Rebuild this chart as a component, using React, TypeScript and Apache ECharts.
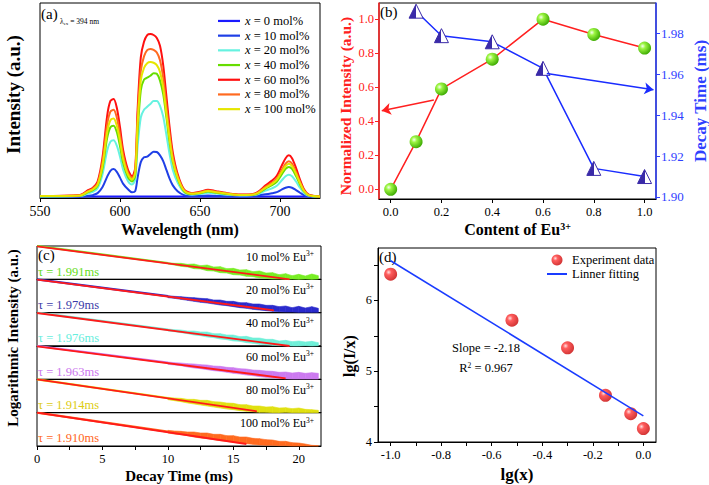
import React, { useEffect, useRef } from "react";
import * as echarts from "echarts";

const FONT = "'Liberation Serif', 'Times New Roman', Times, serif";

// ---------- (a) emission spectra ----------
const wavelength = [550, 575, 580, 583, 586, 589, 592, 594, 596, 598, 600, 602, 605, 607.5, 609.5, 611, 613, 615, 617, 619, 621, 623, 625, 627, 629, 631, 633, 636, 640, 645, 650, 655, 660, 667, 675, 682, 686, 691, 695, 698, 701, 703.5, 705.5, 707.5, 710, 712.5, 715, 718, 725];
const wavelength0 = [550, 725];
const em0 = [0.003, 0.003];
const em10 = [0.001, 0.002, 0.006, 0.01, 0.02, 0.05, 0.105, 0.135, 0.144, 0.13, 0.1, 0.068, 0.04, 0.024, 0.03, 0.1, 0.18, 0.205, 0.208, 0.222, 0.234, 0.232, 0.215, 0.185, 0.14, 0.095, 0.06, 0.03, 0.01, 0.005, 0.006, 0.008, 0.006, 0.004, 0.003, 0.004, 0.008, 0.014, 0.02, 0.025, 0.038, 0.048, 0.052, 0.048, 0.036, 0.022, 0.01, 0.003, 0.001];
const em20 = [0.003, 0.005, 0.018, 0.026, 0.045, 0.115, 0.24, 0.285, 0.292, 0.265, 0.208, 0.14, 0.082, 0.065, 0.09, 0.26, 0.41, 0.45, 0.465, 0.48, 0.495, 0.495, 0.47, 0.415, 0.32, 0.22, 0.14, 0.075, 0.025, 0.012, 0.016, 0.022, 0.018, 0.012, 0.008, 0.009, 0.014, 0.033, 0.045, 0.058, 0.085, 0.107, 0.115, 0.107, 0.08, 0.048, 0.021, 0.007, 0.002];
const em40 = [0.004, 0.007, 0.025, 0.035, 0.058, 0.145, 0.305, 0.36, 0.368, 0.335, 0.262, 0.175, 0.102, 0.08, 0.11, 0.33, 0.55, 0.605, 0.615, 0.625, 0.638, 0.635, 0.6, 0.53, 0.41, 0.28, 0.18, 0.095, 0.03, 0.015, 0.02, 0.028, 0.022, 0.015, 0.01, 0.011, 0.018, 0.043, 0.061, 0.079, 0.115, 0.145, 0.155, 0.145, 0.108, 0.065, 0.029, 0.009, 0.002];
const em60 = [0.005, 0.01, 0.035, 0.048, 0.08, 0.2, 0.42, 0.495, 0.505, 0.46, 0.36, 0.24, 0.14, 0.107, 0.15, 0.45, 0.72, 0.8, 0.835, 0.84, 0.835, 0.82, 0.78, 0.68, 0.52, 0.36, 0.23, 0.12, 0.04, 0.02, 0.027, 0.038, 0.03, 0.02, 0.013, 0.015, 0.025, 0.06, 0.085, 0.11, 0.16, 0.2, 0.215, 0.2, 0.15, 0.09, 0.04, 0.012, 0.003];
const em80 = [0.005, 0.009, 0.03, 0.043, 0.07, 0.18, 0.375, 0.44, 0.45, 0.41, 0.32, 0.215, 0.125, 0.097, 0.135, 0.41, 0.65, 0.725, 0.757, 0.763, 0.758, 0.745, 0.705, 0.615, 0.47, 0.325, 0.208, 0.108, 0.036, 0.018, 0.024, 0.034, 0.027, 0.018, 0.012, 0.013, 0.022, 0.052, 0.074, 0.095, 0.138, 0.172, 0.184, 0.172, 0.129, 0.078, 0.034, 0.01, 0.003];
const em100 = [0.005, 0.008, 0.028, 0.039, 0.064, 0.16, 0.336, 0.396, 0.405, 0.368, 0.29, 0.195, 0.115, 0.09, 0.125, 0.375, 0.6, 0.665, 0.69, 0.696, 0.692, 0.68, 0.645, 0.565, 0.43, 0.3, 0.19, 0.1, 0.033, 0.017, 0.022, 0.031, 0.025, 0.017, 0.011, 0.012, 0.02, 0.048, 0.068, 0.088, 0.128, 0.16, 0.172, 0.16, 0.12, 0.072, 0.032, 0.01, 0.003];
const emNames = ["x = 0 mol%", "x = 10 mol%", "x = 20 mol%", "x = 40 mol%", "x = 60 mol%", "x = 80 mol%", "x = 100 mol%"];
const emColors = ["#1a1aff", "#1f3fe6", "#66f2e0", "#66dd00", "#ff1010", "#ff6a20", "#e6e600"];
const aXTicks = [550, 600, 650, 700];

// ---------- (b) normalized intensity & decay time ----------
const euContent = [0, 0.1, 0.2, 0.4, 0.6, 0.8, 1.0];
const normIntensity = [0.0, 0.28, 0.59, 0.765, 1.0, 0.91, 0.83];
const decayContent = [0.1, 0.2, 0.4, 0.6, 0.8, 1.0];
const decayTime = [1.991, 1.979, 1.976, 1.963, 1.914, 1.91];
const bXTicks = [0, 0.2, 0.4, 0.6, 0.8, 1.0];
const bLeftTicks = [0, 0.2, 0.4, 0.6, 0.8, 1.0];
const bRightTicks = [1.9, 1.92, 1.94, 1.96, 1.98];
const arrowNorm = [[0.17, 0.525], [-0.035, 0.462]];
const arrowDecay = [[0.615, 1.9605], [1.035, 1.9525]];

// ---------- (c) decay curves ----------
const cConc = ["10", "20", "40", "60", "80", "100"];
const cTau = ["1.991", "1.979", "1.976", "1.963", "1.914", "1.910"];
const cColors = ["#77ee22", "#2a2acc", "#6ff0d8", "#cc7af0", "#e0e010", "#ff6a1e"];
const cTauColors = ["#66dd22", "#3a3aa8", "#66eedd", "#cc77ee", "#ddcc11", "#ff6622"];
const cFitStart = [99, 99, 99, 99, 100, 100];
const cFitEndT = [19.3, 18.1, 19.3, 19.0, 16.8, 16.0];
const cFitEndY = [0, 7, 0, 3, 4, 6];
const cHeadEnd = [49, 49.5, 49, 50, 44, 43];
const cT = [10, 10.5, 11, 11.5, 12, 12.5, 13, 13.5, 14, 14.5, 15, 15.5, 16, 16.5, 17, 17.5, 18, 18.5, 19, 19.5, 20, 20.5, 21, 21.5];
const cLo = [
  [46, 43, 39, 37, 32, 31, 26, 25, 20, 19, 14, 13, 9, 8, 4, 3, 1, 1, 0, 1, 0, 1, 0, 1],
  [45, 43, 40, 37, 34, 31, 29, 26, 23, 21, 18, 15, 13, 10, 8, 6, 4, 3, 2, 2, 1, 1, 1, 1],
  [45, 43, 40, 37, 33, 31, 27, 25, 21, 19, 15, 14, 10, 8, 5, 4, 2, 1, 1, 0, 0, 1, 0, 1],
  [45, 43, 41, 37, 34, 32, 29, 26, 24, 21, 18, 16, 13, 11, 8, 6, 4, 3, 2, 1, 1, 1, 1, 1],
  [39, 36, 33, 29, 26, 23, 20, 17, 14, 11, 9, 6, 4, 3, 1, 1, 0, 0, 1, 0, 0, 0, 0, 0],
  [39, 36, 34, 31, 27, 24, 22, 19, 16, 14, 11, 9, 7, 5, 3, 2, 2, 1, 1, 0, 0, 0, 0, 0],
];
const cHi = [
  [50, 48, 48, 45, 46, 41, 43, 37, 38, 32, 33, 28, 29, 23, 25, 19, 20, 14, 17, 11, 15, 10, 16, 11],
  [51, 49, 48, 46, 45, 43, 42, 38, 38, 34, 34, 30, 30, 26, 26, 22, 22, 18, 20, 15, 19, 14, 18, 13],
  [51, 49, 48, 45, 45, 42, 42, 37, 37, 33, 33, 28, 29, 24, 24, 20, 20, 15, 17, 13, 15, 12, 14, 10],
  [52, 50, 49, 47, 46, 44, 43, 40, 39, 36, 35, 32, 31, 28, 27, 25, 24, 21, 22, 19, 21, 18, 20, 18],
  [46, 44, 43, 40, 40, 37, 37, 33, 32, 29, 28, 24, 24, 20, 20, 17, 18, 14, 15, 12, 14, 10, 9, 7],
  [47, 45, 44, 42, 42, 39, 39, 35, 35, 31, 31, 27, 27, 23, 22, 19, 18, 14, 14, 10, 9, 6, 2, 1],
];
const cXTicks = [0, 5, 10, 15, 20];
const cXMinorTicks = [0, 2.5, 5, 7.5, 10, 12.5, 15, 17.5, 20];

// ---------- (d) lg(I/x) vs lg(x) ----------
const dX = [-1.0, -0.52, -0.3, -0.15, -0.05, 0.0];
const dY = [6.37, 5.72, 5.33, 4.66, 4.4, 4.19];
const dFitX = [-1.0, 0.0];
const dFitY = [6.56, 4.37];
const dXTicks = [-1.0, -0.8, -0.6, -0.4, -0.2, 0.0];
const dXMinorTicks = [-1.0, -0.9, -0.8, -0.7, -0.6, -0.5, -0.4, -0.3, -0.2, -0.1, 0.0];
const dYTicks = [4, 5, 6];
const dYMinorTicks = [4, 4.5, 5, 5.5, 6, 6.5];

const pairs = (xs: number[], ys: number[]) => xs.map((x, i) => [x, ys[i]]);
const LINE_ICON = "path://M0,0 L20,0 L20,2 L0,2 Z";

function valueAxis(o: any) {
  const color = o.color || "#000";
  return {
    type: "value",
    gridIndex: o.grid,
    position: o.position,
    min: o.min,
    max: o.max,
    splitLine: { show: false },
    axisLine: { show: o.line !== false, onZero: false, lineStyle: { color, width: o.lineWidth || 1 } },
    axisTick: o.ticks
      ? { show: true, inside: false, length: 4, customValues: o.ticks, lineStyle: { color, width: 1 } }
      : { show: false },
    axisLabel: o.labels
      ? {
          show: true,
          customValues: o.labels,
          formatter: o.fmt,
          color,
          fontSize: o.fontSize || 12.5,
          fontFamily: FONT,
          margin: o.margin || 6,
        }
      : { show: false },
    name: o.name,
    nameLocation: "middle",
    nameGap: o.nameGap,
    nameRotate: o.nameRotate,
    nameTextStyle: o.name
      ? {
          fontSize: o.nameSize,
          fontWeight: "bold",
          color,
          fontFamily: FONT,
          padding: o.namePad,
          rich: o.nameRich,
        }
      : undefined,
  };
}

function buildOption() {
  const stripTop = 246;
  const stripH = 200 / 6;

  const grids: any[] = [
    { left: 40, top: 3, width: 280, height: 195 },
    { left: 379, top: 3, width: 277, height: 196 },
  ];
  for (let i = 0; i < 6; i++) grids.push({ left: 37, top: stripTop + i * stripH, width: 284, height: stripH });
  grids.push({ left: 378, top: 248, width: 278, height: 194 });
  grids.forEach((g) => {
    g.show = true;
    g.borderColor = "#000";
    g.borderWidth = 1;
    g.backgroundColor = "transparent";
    g.containLabel = false;
    g.outerBoundsMode = "none";
  });

  const supRich = {
    s: { fontSize: 10, fontWeight: "bold", verticalAlign: "top", fontFamily: FONT, color: "#000", lineHeight: 10 },
  };

  const xAxes: any[] = [
    valueAxis({ grid: 0, min: 550, max: 725, ticks: aXTicks, labels: aXTicks, fontSize: 14, name: "Wavelength (nm)", nameGap: 23, nameSize: 16 }),
    valueAxis({ grid: 1, min: -0.046, max: 1.045, ticks: bXTicks, labels: bXTicks, fmt: (v: number) => v.toFixed(1), name: "Content of Eu{s|3+}", nameGap: 22, nameSize: 16, nameRich: supRich }),
  ];
  for (let i = 0; i < 6; i++) {
    const last = i === 5;
    xAxes.push(
      valueAxis({
        grid: 2 + i,
        min: 0,
        max: 21.7,
        ticks: last ? cXMinorTicks : undefined,
        labels: last ? cXTicks : undefined,
        name: last ? "Decay Time (ms)" : undefined,
        nameGap: 22,
        nameSize: 15,
      })
    );
  }
  xAxes.push(
    valueAxis({ grid: 8, min: -1.05, max: 0.05, ticks: dXMinorTicks, labels: dXTicks, fmt: (v: number) => v.toFixed(1), name: "lg(x)", nameGap: 24, nameSize: 17 })
  );

  const yAxes: any[] = [
    valueAxis({ grid: 0, min: -0.005, max: 1.0, line: false, name: "Intensity (a.u.)", nameGap: 17, nameSize: 19, nameRotate: 90, namePad: [0, 0, 0, 12] }),
    valueAxis({ grid: 1, min: -0.057, max: 1.095, color: "#ff2020", lineWidth: 1.5, ticks: bLeftTicks, labels: bLeftTicks, fmt: (v: number) => v.toFixed(1), margin: 5, name: "Normalized Intensity (a.u.)", nameGap: 26, nameSize: 15.5, nameRotate: 90, namePad: [0, 10, 0, 0] }),
    valueAxis({ grid: 1, position: "right", min: 1.899, max: 1.995, color: "#2f3fff", lineWidth: 1.5, ticks: bRightTicks, labels: bRightTicks, fmt: (v: number) => v.toFixed(2), fontSize: 13, margin: 5, name: "Decay Time (ms)", nameGap: 36, nameSize: 17, nameRotate: 90 }),
  ];
  for (let i = 0; i < 6; i++) yAxes.push(valueAxis({ grid: 2 + i, min: 0, max: 100, line: false }));
  yAxes.push(
    valueAxis({ grid: 8, min: 4, max: 6.74, ticks: dYMinorTicks, labels: dYTicks, margin: 6, name: "lg(I/x)", nameGap: 21, nameSize: 16, nameRotate: 90, namePad: [0, 22, 0, 0] })
  );

  const series: any[] = [];
  const emData = [em0, em10, em20, em40, em60, em80, em100];
  emData.forEach((ys, k) => {
    series.push({
      name: emNames[k],
      type: "line",
      xAxisIndex: 0,
      yAxisIndex: 0,
      data: pairs(k === 0 ? wavelength0 : wavelength, ys),
      symbol: "none",
      showSymbol: false,
      smooth: 0.3,
      lineStyle: { color: emColors[k], width: 2 },
      itemStyle: { color: emColors[k] },
    });
  });

  const greenBall = new echarts.graphic.RadialGradient(0.35, 0.35, 0.7, [
    { offset: 0, color: "#f4fff0" },
    { offset: 0.3, color: "#9cf542" },
    { offset: 1, color: "#3aa800" },
  ]);
  const redBall = new echarts.graphic.RadialGradient(0.35, 0.35, 0.7, [
    { offset: 0, color: "#ffd8d8" },
    { offset: 0.3, color: "#ff3434" },
    { offset: 1, color: "#c40000" },
  ]);
  const halfTri = new echarts.graphic.LinearGradient(0, 0, 1, 0, [
    { offset: 0, color: "#3a2aa8" },
    { offset: 0.5, color: "#3a2aa8" },
    { offset: 0.5, color: "#ffffff" },
    { offset: 1, color: "#ffffff" },
  ]);

  series.push({
    name: "Normalized intensity",
    type: "line",
    xAxisIndex: 1,
    yAxisIndex: 1,
    data: pairs(euContent, normIntensity),
    symbol: "circle",
    symbolSize: 13,
    itemStyle: { color: greenBall },
    lineStyle: { color: "#ff2020", width: 1.5 },
    z: 3,
    markLine: {
      silent: true,
      symbol: ["none", "arrow"],
      symbolSize: 9,
      label: { show: false },
      lineStyle: { color: "#ff2020", width: 1.5, type: "solid" },
      data: [[{ coord: arrowNorm[0] }, { coord: arrowNorm[1] }]],
    },
  });
  series.push({
    name: "Decay time",
    type: "line",
    xAxisIndex: 1,
    yAxisIndex: 2,
    data: pairs(decayContent, decayTime),
    symbol: "triangle",
    symbolSize: 14,
    itemStyle: { color: halfTri, borderColor: "#3a2aa8", borderWidth: 1 },
    lineStyle: { color: "#1a2cff", width: 1.5 },
    markLine: {
      silent: true,
      symbol: ["none", "arrow"],
      symbolSize: 9,
      label: { show: false },
      lineStyle: { color: "#1a2cff", width: 1.5, type: "solid" },
      data: [[{ coord: arrowDecay[0] }, { coord: arrowDecay[1] }]],
    },
  });

  for (let i = 0; i < 6; i++) {
    const xi = 2 + i;
    const yi = 3 + i;
    const lo = cLo[i];
    const hi = cHi[i];
    const color = cColors[i];
    // noisy tail of the measured decay: band between lower and upper envelopes
    series.push({
      name: "noise" + i,
      type: "custom",
      xAxisIndex: xi,
      yAxisIndex: yi,
      silent: true,
      encode: { x: 0, y: [1, 2] },
      data: cT.map((t, k) => [t, lo[k], hi[k]]),
      renderItem: (params: any, api: any) => {
        const k = params.dataIndex;
        if (k >= cT.length - 1) return null;
        const pts = [
          api.coord([cT[k], hi[k]]),
          api.coord([cT[k + 1], hi[k + 1]]),
          api.coord([cT[k + 1], lo[k + 1]]),
          api.coord([cT[k], lo[k]]),
        ];
        return {
          type: "polygon",
          shape: { points: pts },
          style: { fill: color, stroke: color, lineWidth: 0.6 },
        };
      },
    });
    series.push({
      name: "head" + i,
      type: "line",
      xAxisIndex: xi,
      yAxisIndex: yi,
      data: [[0, 100], [10, cHeadEnd[i]]],
      symbol: "none",
      lineStyle: { color, width: 2.2 },
    });
    series.push({
      name: "fit" + i,
      type: "line",
      xAxisIndex: xi,
      yAxisIndex: yi,
      data: [[0, cFitStart[i]], [cFitEndT[i], cFitEndY[i]]],
      symbol: "none",
      lineStyle: { color: "#ff1a1a", width: 1.8 },
    });
  }

  series.push({
    name: "Linner fitting",
    type: "line",
    xAxisIndex: 8,
    yAxisIndex: 9,
    data: pairs(dFitX, dFitY),
    symbol: "none",
    showSymbol: false,
    lineStyle: { color: "#1a3cff", width: 1.5 },
    itemStyle: { color: "#1a3cff" },
  });
  series.push({
    name: "Experiment data",
    type: "scatter",
    xAxisIndex: 8,
    yAxisIndex: 9,
    data: pairs(dX, dY),
    symbolSize: 13,
    itemStyle: { color: redBall },
  });

  const txt = (o: any) => ({ type: "text", silent: true, ...o });
  const graphics: any[] = [
    txt({ x: 41, y: 14, style: { text: "(a)", fontSize: 15, fontFamily: FONT, fill: "#000", align: "left", verticalAlign: "middle" } }),
    txt({
      x: 60,
      y: 21.5,
      style: {
        text: "{a|λ}{b|ex}{a| = 394 nm}",
        align: "left",
        verticalAlign: "middle",
        rich: {
          a: { fontSize: 7.5, fontFamily: FONT, fill: "#000", color: "#000", lineHeight: 9 },
          b: { fontSize: 5, fontFamily: FONT, fill: "#000", color: "#000", verticalAlign: "bottom", lineHeight: 5 },
        },
      },
    }),
    txt({ x: 380, y: 12, style: { text: "(b)", fontSize: 15, fontFamily: FONT, fill: "#000", align: "left", verticalAlign: "middle" } }),
    txt({ x: 38, y: 255, style: { text: "(c)", fontSize: 15, fontFamily: FONT, fill: "#000", align: "left", verticalAlign: "middle" } }),
    txt({ x: 379, y: 257, style: { text: "(d)", fontSize: 15, fontFamily: FONT, fill: "#000", align: "left", verticalAlign: "middle" } }),
    txt({
      x: 12.5,
      y: 338,
      rotation: Math.PI / 2,
      style: { text: "Logarithmic Intensity (a.u.)", fontSize: 15, fontWeight: "bold", fontFamily: FONT, fill: "#000", align: "center", verticalAlign: "middle" },
    }),
    txt({ x: 486, y: 348, style: { text: "Slope = -2.18", fontSize: 12.5, fontFamily: FONT, fill: "#000", align: "center", verticalAlign: "middle" } }),
    txt({
      x: 486,
      y: 368,
      style: {
        text: "{n|R}{s|2}{n| = 0.967}",
        align: "center",
        verticalAlign: "middle",
        rich: {
          n: { fontSize: 12.5, fontFamily: FONT, fill: "#000", color: "#000", lineHeight: 14 },
          s: { fontSize: 7.5, fontFamily: FONT, fill: "#000", color: "#000", verticalAlign: "top", lineHeight: 8 },
        },
      },
    }),
  ];
  for (let i = 0; i < 6; i++) {
    const top = stripTop + i * stripH;
    graphics.push(
      txt({
        x: 314,
        y: top + 10.5,
        style: {
          text: `{n|${cConc[i]} mol% Eu}{s|3+}`,
          align: "right",
          verticalAlign: "middle",
          rich: {
            n: { fontSize: 12, fontFamily: FONT, fill: "#000", color: "#000", lineHeight: 14 },
            s: { fontSize: 7.5, fontFamily: FONT, fill: "#000", color: "#000", verticalAlign: "top", lineHeight: 8 },
          },
        },
      })
    );
    graphics.push(
      txt({
        x: 38,
        y: top + 25.5,
        style: { text: `τ = ${cTau[i]}ms`, fontSize: 12.5, fontFamily: FONT, fill: cTauColors[i], align: "left", verticalAlign: "middle" },
      })
    );
  }

  return {
    animation: false,
    backgroundColor: "#fff",
    textStyle: { fontFamily: FONT },
    grid: grids,
    xAxis: xAxes,
    yAxis: yAxes,
    legend: [
      {
        data: emNames.map((name) => ({ name, icon: LINE_ICON })),
        orient: "vertical",
        left: 218,
        top: 13.6,
        padding: 0,
        itemGap: 0,
        itemWidth: 22,
        itemHeight: 10,
        selectedMode: false,
        formatter: (name: string) => `{i|x}{n|${name.slice(1)}}`,
        textStyle: {
          fontSize: 12.5,
          lineHeight: 14.7,
          color: "#000",
          fontFamily: FONT,
          rich: {
            i: { fontStyle: "italic", fontSize: 12.5, fontFamily: FONT, color: "#000", lineHeight: 14.7 },
            n: { fontSize: 12.5, fontFamily: FONT, color: "#000", lineHeight: 14.7 },
          },
        },
      },
      {
        data: [
          { name: "Experiment data", icon: "circle" },
          { name: "Linner fitting", icon: LINE_ICON },
        ],
        orient: "vertical",
        left: 547,
        top: 253,
        padding: 0,
        itemGap: 0,
        itemWidth: 20,
        itemHeight: 11,
        selectedMode: false,
        textStyle: { fontSize: 12.5, lineHeight: 14, color: "#000", fontFamily: FONT },
      },
    ],
    graphic: { elements: graphics },
    series,
  };
}

export default function App() {
  const ref = useRef<HTMLDivElement>(null);
  useEffect(() => {
    if (!ref.current) return;
    const chart = echarts.init(ref.current, null, { renderer: "svg" });
    chart.setOption(buildOption() as any);
    return () => chart.dispose();
  }, []);
  return (
    <div
      ref={ref}
      style={{ position: "fixed", left: 0, top: 0, width: 709, height: 485, background: "#fff" }}
    />
  );
}
